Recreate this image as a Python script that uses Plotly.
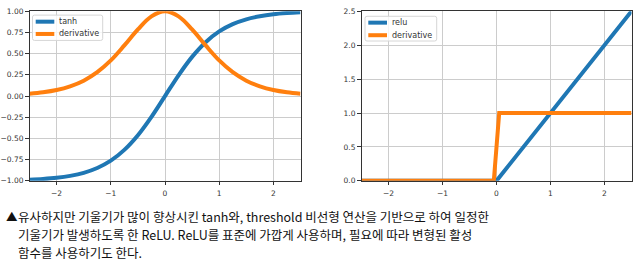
import plotly.graph_objects as go

# ---- data ----
x_tanh = [-2.5, -2.25, -2.0, -1.75, -1.5, -1.25, -1.0, -0.75, -0.5, -0.25, 0.0,
          0.25, 0.5, 0.75, 1.0, 1.25, 1.5, 1.75, 2.0, 2.25, 2.5]
y_tanh = [-0.987, -0.978, -0.964, -0.941, -0.905, -0.848, -0.762, -0.635, -0.462, -0.245, 0.0,
          0.245, 0.462, 0.635, 0.762, 0.848, 0.905, 0.941, 0.964, 0.978, 0.987]
y_tanh_deriv = [0.027, 0.044, 0.071, 0.115, 0.181, 0.281, 0.420, 0.597, 0.786, 0.940, 1.0,
                0.940, 0.786, 0.597, 0.420, 0.281, 0.181, 0.115, 0.071, 0.044, 0.027]

x_relu = [-2.5, 0.0, 2.5]
y_relu = [0.0, 0.0, 2.5]
x_relu_deriv = [-2.5, -0.05, 0.05, 2.5]
y_relu_deriv = [0.0, 0.0, 1.0, 1.0]

left_names = ["tanh", "derivative"]
right_names = ["relu", "derivative"]

x_ticks = [-2, -1, 0, 1, 2]
x_ticklabels = ["\u22122", "\u22121", "0", "1", "2"]
y1_ticks = [-1.0, -0.75, -0.5, -0.25, 0.0, 0.25, 0.5, 0.75, 1.0]
y1_ticklabels = ["\u22121.00", "\u22120.75", "\u22120.50", "\u22120.25", "0.00", "0.25", "0.50", "0.75", "1.00"]
y2_ticks = [0.0, 0.5, 1.0, 1.5, 2.0, 2.5]
y2_ticklabels = ["0.0", "0.5", "1.0", "1.5", "2.0", "2.5"]

caption_bullet = "\u25b2"
caption_lines = [
    "유사하지만 기울기가 많이 향상시킨 tanh와, threshold 비선형 연산을 기반으로 하여 일정한",
    "기울기가 발생하도록 한 ReLU. ReLU를 표준에 가깝게 사용하며, 필요에 따라 변형된 활성",
    "함수를 사용하기도 한다.",
]

BLUE = "#1f77b4"
ORANGE = "#ff7f0e"
COLORS = [BLUE, ORANGE]
W, H = 640, 268

fig = go.Figure()
fig.add_trace(go.Scatter(x=x_tanh, y=y_tanh, mode="lines", name=left_names[0],
                         line=dict(color=BLUE, width=4, shape="spline"),
                         xaxis="x", yaxis="y", showlegend=False))
fig.add_trace(go.Scatter(x=x_tanh, y=y_tanh_deriv, mode="lines", name=left_names[1],
                         line=dict(color=ORANGE, width=4, shape="spline"),
                         xaxis="x", yaxis="y", showlegend=False))
fig.add_trace(go.Scatter(x=x_relu, y=y_relu, mode="lines", name=right_names[0],
                         line=dict(color=BLUE, width=4),
                         xaxis="x2", yaxis="y2", showlegend=False))
fig.add_trace(go.Scatter(x=x_relu_deriv, y=y_relu_deriv, mode="lines", name=right_names[1],
                         line=dict(color=ORANGE, width=4),
                         xaxis="x2", yaxis="y2", showlegend=False))

tickfont = dict(family="DejaVu Sans", size=7.5, color="#333")
common = dict(showline=True, mirror=True, linecolor="#333", linewidth=1,
              showgrid=True, gridcolor="#cccccc", gridwidth=1,
              ticks="outside", ticklen=3.5, tickcolor="#333", tickwidth=1,
              zeroline=False, tickfont=tickfont, fixedrange=True)
xcommon = dict(common, ticklabelstandoff=2)

y0 = (H - 183.0) / H
y1 = (H - 7.5) / H

fig.update_layout(
    width=W, height=H,
    margin=dict(l=0, r=0, t=0, b=0),
    paper_bgcolor="white", plot_bgcolor="white",
    showlegend=False,
    xaxis=dict(domain=[29.5 / W, 300.5 / W], range=[-2.5, 2.5], anchor="y",
               tickvals=x_ticks, ticktext=x_ticklabels, **xcommon),
    yaxis=dict(domain=[y0, y1], range=[-1.0, 1.0], anchor="x",
               tickvals=y1_ticks, ticktext=y1_ticklabels, **common),
    xaxis2=dict(domain=[361.5 / W, 631.5 / W], range=[-2.5, 2.5], anchor="y2",
                tickvals=x_ticks, ticktext=x_ticklabels, **xcommon),
    yaxis2=dict(domain=[y0, y1], range=[0.0, 2.5], anchor="x2",
                tickvals=y2_ticks, ticktext=y2_ticklabels, **common),
)


def rounded_rect(x0, y0_, x1, y1_, r):
    # pixel coords (top-left origin) -> paper path
    def px(x):
        return x / W

    def py(y):
        return (H - y) / H
    return (f"M {px(x0 + r)},{py(y0_)} L {px(x1 - r)},{py(y0_)} "
            f"Q {px(x1)},{py(y0_)} {px(x1)},{py(y0_ + r)} "
            f"L {px(x1)},{py(y1_ - r)} Q {px(x1)},{py(y1_)} {px(x1 - r)},{py(y1_)} "
            f"L {px(x0 + r)},{py(y1_)} Q {px(x0)},{py(y1_)} {px(x0)},{py(y1_ - r)} "
            f"L {px(x0)},{py(y0_ + r)} Q {px(x0)},{py(y0_)} {px(x0 + r)},{py(y0_)} Z")


def add_legend(box, line_x0, line_x1, text_x, rows_y, names):
    fig.add_shape(type="path", xref="paper", yref="paper",
                  path=rounded_rect(*box, 2),
                  fillcolor="rgba(255,255,255,0.8)", line=dict(color="#d6d6d6", width=1),
                  layer="above")
    for name, color, yy in zip(names, COLORS, rows_y):
        fig.add_shape(type="line", xref="paper", yref="paper",
                      x0=line_x0 / W, x1=line_x1 / W, y0=(H - yy) / H, y1=(H - yy) / H,
                      line=dict(color=color, width=4), layer="above")
        fig.add_annotation(text=name, xref="paper", yref="paper",
                           x=text_x / W, y=(H - yy) / H, xanchor="left", yanchor="middle",
                           showarrow=False, xshift=-2,
                           font=dict(family="DejaVu Sans", size=8, color="#333"))


add_legend((32.5, 11.5, 102.7, 37.7), 35.7, 54.3, 59.3, [18.3, 31.0], left_names)
add_legend((365.0, 12.7, 436.7, 38.3), 368.3, 387.0, 392.3, [19.3, 32.3], right_names)

capfont = dict(family="Noto Sans CJK KR", size=12.5, color="#111")
line_y = [219.6, 238.6, 257.0]
fig.add_annotation(text=caption_bullet, xref="paper", yref="paper",
                   x=4.5 / W, y=(H - line_y[0]) / H, xanchor="left", yanchor="middle",
                   showarrow=False, borderpad=0, font=dict(capfont, size=11.5))
for txt, yy in zip(caption_lines, line_y):
    fig.add_annotation(text=txt, xref="paper", yref="paper",
                       x=17 / W, y=(H - yy) / H, xanchor="left", yanchor="middle",
                       align="left", showarrow=False, borderpad=0, font=capfont)

fig.write_html("out.html")
